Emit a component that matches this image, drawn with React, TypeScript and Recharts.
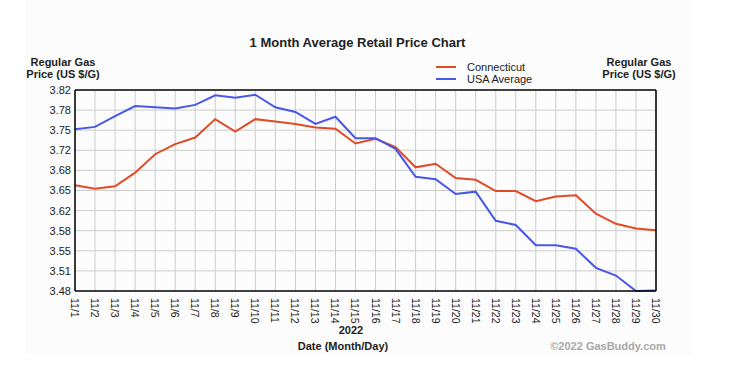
import React from 'react';
import {
  LineChart,
  Line,
  XAxis,
  YAxis,
  CartesianGrid,
  ReferenceLine,
} from 'recharts';

const DAYS = [
  '11/1', '11/2', '11/3', '11/4', '11/5', '11/6', '11/7', '11/8', '11/9', '11/10',
  '11/11', '11/12', '11/13', '11/14', '11/15', '11/16', '11/17', '11/18', '11/19', '11/20',
  '11/21', '11/22', '11/23', '11/24', '11/25', '11/26', '11/27', '11/28', '11/29', '11/30',
];

const CONNECTICUT = [
  3.658, 3.652, 3.656, 3.679, 3.710, 3.727, 3.738, 3.769, 3.748, 3.769,
  3.765, 3.761, 3.755, 3.753, 3.728, 3.736, 3.722, 3.688, 3.694, 3.670,
  3.667, 3.648, 3.648, 3.631, 3.639, 3.641, 3.610, 3.593, 3.585, 3.582,
];

const USA_AVERAGE = [
  3.752, 3.756, 3.774, 3.791, 3.789, 3.787, 3.793, 3.809, 3.805, 3.810,
  3.789, 3.781, 3.761, 3.773, 3.737, 3.737, 3.719, 3.672, 3.668, 3.643,
  3.647, 3.598, 3.591, 3.557, 3.557, 3.551, 3.519, 3.506, 3.480, 3.481,
];

const Y_TICKS = [3.48, 3.5138, 3.5476, 3.5814, 3.6152, 3.649, 3.6828, 3.7166, 3.7504, 3.7842, 3.818];

const RED = '#e04b27';
const BLUE = '#4757e8';
const FONT = 'Arial, "Liberation Sans", sans-serif';

const data = DAYS.map((day, i) => ({
  day,
  ct: CONNECTICUT[i],
  usa: USA_AVERAGE[i],
}));

const DayTick = ({ x, y, payload }: any) => (
  <text
    x={x}
    y={y}
    transform={`rotate(90, ${x}, ${y})`}
    textAnchor="start"
    dominantBaseline="central"
    fontSize={10.5}
    fontFamily={FONT}
    fill="#222"
  >
    {payload.value}
  </text>
);

const boldText: React.CSSProperties = {
  position: 'absolute',
  fontFamily: FONT,
  fontWeight: 700,
  fontSize: 11,
  color: '#222',
  lineHeight: '12px',
  textAlign: 'center',
  whiteSpace: 'nowrap',
};

export default function App() {
  return (
    <div style={{ position: 'absolute', left: 0, top: 0, width: 745, height: 386, background: '#fff', overflow: 'hidden' }}>
      <div style={{ position: 'absolute', left: 25, top: 0, width: 669, height: 355, background: '#fcfcfc' }} />

      <div style={{ ...boldText, fontSize: 13, left: 150, width: 415, top: 37 }}>
        1 Month Average Retail Price Chart
      </div>

      <div style={{ ...boldText, left: 13, width: 100, top: 56 }}>
        Regular Gas<br />Price (US $/G)
      </div>
      <div style={{ ...boldText, left: 589, width: 100, top: 56 }}>
        Regular Gas<br />Price (US $/G)
      </div>

      <div style={{ position: 'absolute', left: 436, top: 61, fontFamily: FONT, fontSize: 11, color: '#222', lineHeight: '12px' }}>
        <div style={{ display: 'flex', alignItems: 'center' }}>
          <span style={{ display: 'inline-block', width: 20, height: 2, background: RED, marginRight: 11 }} />
          Connecticut
        </div>
        <div style={{ display: 'flex', alignItems: 'center' }}>
          <span style={{ display: 'inline-block', width: 20, height: 2, background: BLUE, marginRight: 11 }} />
          USA Average
        </div>
      </div>

      <div style={{ position: 'absolute', left: 0, top: 0 }}>
        <LineChart width={745} height={386} data={data} margin={{ top: 90, right: 44, left: 30, bottom: 55 }}>
          <CartesianGrid horizontal={false} stroke="#cccccc" strokeWidth={1} />
          <XAxis
            dataKey="day"
            interval={0}
            tick={<DayTick />}
            tickSize={0}
            tickMargin={7}
            height={40}
            axisLine={{ stroke: '#000', strokeWidth: 1.5 }}
            tickLine={false}
          />
          <YAxis
            yAxisId="left"
            domain={[3.48, 3.818]}
            ticks={Y_TICKS}
            tickFormatter={(v: number) => v.toFixed(2)}
            width={45}
            tickSize={0}
            tickMargin={4}
            tickLine={false}
            axisLine={{ stroke: '#000', strokeWidth: 1.5 }}
            tick={{ fontSize: 11, fill: '#222', fontFamily: FONT }}
          />
          <YAxis
            yAxisId="right"
            orientation="right"
            domain={[3.48, 3.818]}
            ticks={Y_TICKS}
            tickFormatter={(v: number) => v.toFixed(2)}
            width={45}
            tickSize={0}
            tickMargin={4}
            tickLine={false}
            axisLine={{ stroke: '#000', strokeWidth: 1.5 }}
            tick={{ fontSize: 11, fill: '#222', fontFamily: FONT }}
          />
          {Y_TICKS.slice(1, -1).map((t) => (
            <ReferenceLine key={t} yAxisId="left" y={t} stroke="#cccccc" strokeWidth={1} />
          ))}
          <ReferenceLine yAxisId="left" y={3.818} stroke="#000" strokeWidth={1.5} />
          <Line yAxisId="left" type="linear" dataKey="ct" stroke={RED} strokeWidth={2} dot={false} isAnimationActive={false} />
          <Line yAxisId="left" type="linear" dataKey="usa" stroke={BLUE} strokeWidth={2} dot={false} isAnimationActive={false} />
        </LineChart>
      </div>

      <div style={{ ...boldText, left: 301, width: 100, top: 324 }}>2022</div>
      <div style={{ ...boldText, left: 243, width: 200, top: 340 }}>Date (Month/Day)</div>
      <div style={{ ...boldText, left: 540, width: 136, top: 340, color: '#a8a8a8' }}>©2022 GasBuddy.com</div>
    </div>
  );
}
